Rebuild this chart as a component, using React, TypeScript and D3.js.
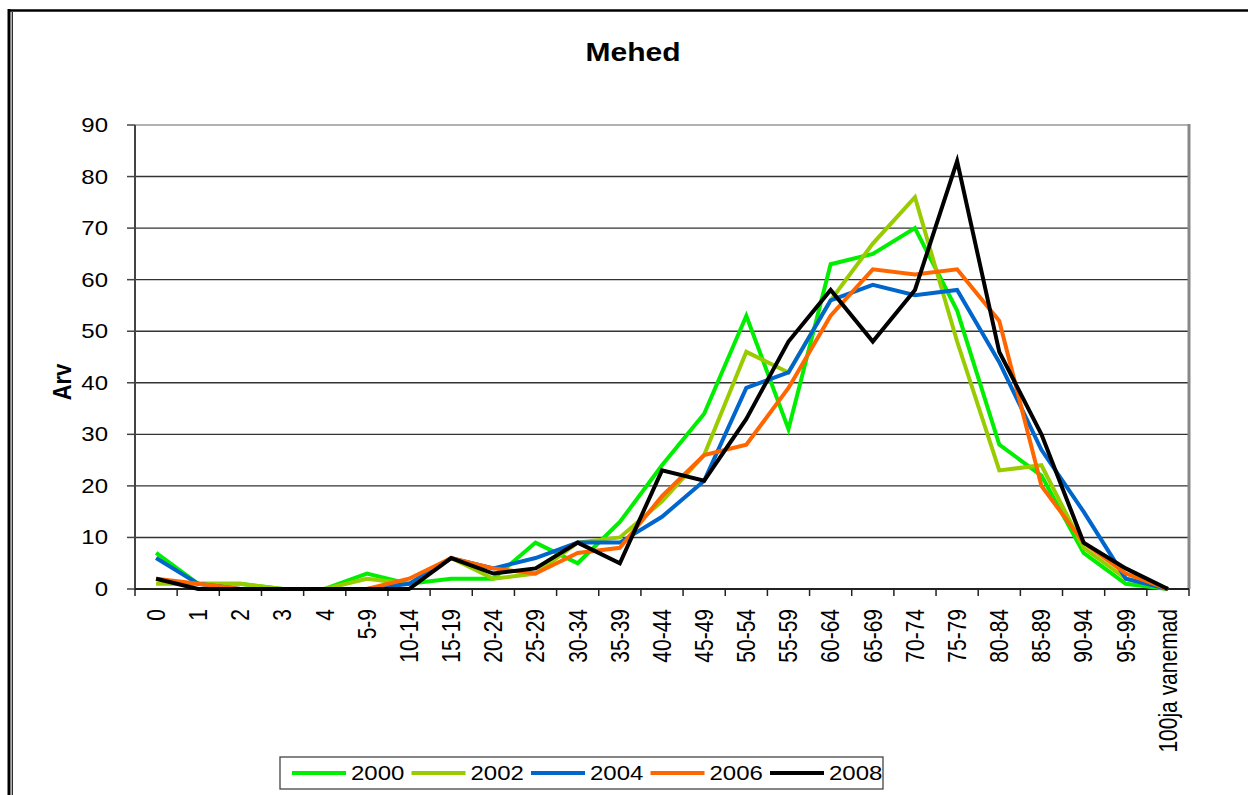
import * as d3 from "d3";

// age groups on the x axis
const categories = [
  "0", "1", "2", "3", "4", "5-9", "10-14", "15-19", "20-24", "25-29", "30-34",
  "35-39", "40-44", "45-49", "50-54", "55-59", "60-64", "65-69", "70-74",
  "75-79", "80-84", "85-89", "90-94", "95-99", "100ja vanemad",
];

const years = ["2000", "2002", "2004", "2006", "2008"];
const colors = ["#00ee00", "#99cc00", "#0066cc", "#ff6600", "#000000"];

const v2000 = [7, 1, 1, 0, 0, 3, 1, 2, 2, 9, 5, 13, 24, 34, 53, 31, 63, 65, 70, 54, 28, 22, 7, 1, 0];
const v2002 = [1, 1, 1, 0, 0, 2, 1, 6, 2, 3, 9, 10, 17, 26, 46, 42, 56, 67, 76, 48, 23, 24, 8, 2, 0];
const v2004 = [6, 1, 0, 0, 0, 0, 1, 6, 4, 6, 9, 9, 14, 21, 39, 42, 56, 59, 57, 58, 44, 27, 15, 2, 0];
const v2006 = [2, 1, 0, 0, 0, 0, 2, 6, 4, 3, 7, 8, 18, 26, 28, 39, 53, 62, 61, 62, 52, 20, 9, 3, 0];
const v2008 = [2, 0, 0, 0, 0, 0, 0, 6, 3, 4, 9, 5, 23, 21, 33, 48, 58, 48, 58, 83, 46, 30, 9, 4, 0];

const yTicks = [0, 10, 20, 30, 40, 50, 60, 70, 80, 90];

const seriesValues = [v2000, v2002, v2004, v2006, v2008];

const W = 1248;
const H = 795;
const left = 135;
const right = 1189;
const top = 125;
const bottom = 589;
const font = "'Liberation Sans', Arial, sans-serif";
const sx = 1.2; // source picture is stretched horizontally

export default function App() {
  const x = d3.scaleBand<string>().domain(categories).range([left, right]).padding(0);
  const y = d3.scaleLinear().domain([0, 90]).range([bottom, top]);
  const cx = (c: string) => (x(c) as number) + x.bandwidth() / 2;

  const line = d3
    .line<number>()
    .x((_, i) => cx(categories[i]))
    .y((d) => y(d));

  const edges = categories.map((c) => x(c) as number).concat([right]);

  const legendLeft = 280;
  const legendStep = 119.5;

  return (
    <svg
      width={W}
      height={H}
      style={{ position: "absolute", left: 0, top: 0, background: "#fff" }}
      fontFamily={font}
    >
      {/* frame */}
      <line x1={8} x2={W} y1={10.5} y2={10.5} stroke="#000" strokeWidth={2.5} />
      <line x1={9} x2={9} y1={9} y2={H} stroke="#000" strokeWidth={3} />
      <line x1={12.3} x2={12.3} y1={12} y2={H} stroke="#222" strokeWidth={1.3} />

      {/* title */}
      <text
        transform={`translate(633,61) scale(${sx},1)`}
        textAnchor="middle"
        fontSize={25}
        fontWeight="bold"
      >
        Mehed
      </text>

      {/* gridlines */}
      {yTicks.slice(1, -1).map((t) => (
        <line key={t} x1={left} x2={right} y1={y(t)} y2={y(t)} stroke="#333" strokeWidth={1.4} />
      ))}
      <line x1={left} x2={right} y1={y(90)} y2={y(90)} stroke="#999" strokeWidth={1.5} />
      <line x1={right} x2={right} y1={top - 1} y2={bottom} stroke="#888" strokeWidth={3} />

      {/* y axis */}
      <line x1={left} x2={left} y1={top} y2={bottom + 1} stroke="#444" strokeWidth={2} />
      {yTicks.map((t) => (
        <g key={t}>
          <line x1={left - 8} x2={left} y1={y(t)} y2={y(t)} stroke="#444" strokeWidth={1.5} />
          <text
            transform={`translate(108,${y(t)}) scale(${sx},1)`}
            textAnchor="end"
            dy="0.35em"
            fontSize={20}
          >
            {t}
          </text>
        </g>
      ))}
      <text
        transform={`translate(62,382) scale(${sx},1) rotate(-90)`}
        textAnchor="middle"
        dy="0.35em"
        fontSize={22}
        fontWeight="bold"
      >
        Arv
      </text>

      {/* x axis */}
      <line x1={left} x2={right} y1={bottom} y2={bottom} stroke="#222" strokeWidth={2} />
      {edges.map((e, i) => (
        <line key={i} x1={e} x2={e} y1={bottom} y2={bottom + 7} stroke="#222" strokeWidth={1.5} />
      ))}
      {categories.map((c) => (
        <text
          key={c}
          transform={`translate(${cx(c)},609) scale(${sx},1) rotate(-90)`}
          textAnchor="end"
          dy="0.35em"
          fontSize={21}
        >
          {c}
        </text>
      ))}

      {/* series */}
      {seriesValues.map((vals, i) => (
        <path
          key={years[i]}
          d={line(vals) as string}
          fill="none"
          stroke={colors[i]}
          strokeWidth={4}
          strokeLinejoin="miter"
        />
      ))}

      {/* legend */}
      <rect x={280} y={757} width={603} height={32} fill="#fff" stroke="#444" strokeWidth={1.3} />
      {years.map((yr, i) => {
        const lx = legendLeft + 12 + i * legendStep;
        return (
          <g key={yr}>
            <line x1={lx} x2={lx + 54} y1={773} y2={773} stroke={colors[i]} strokeWidth={4} />
            <text
              transform={`translate(${lx + 59},773) scale(${sx},1)`}
              dy="0.36em"
              fontSize={20}
            >
              {yr}
            </text>
          </g>
        );
      })}
    </svg>
  );
}
